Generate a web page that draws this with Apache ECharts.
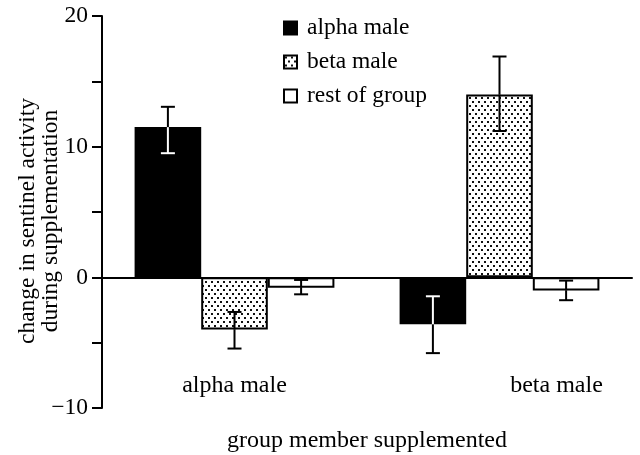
<!DOCTYPE html>
<html>
<head>
<meta charset="utf-8">
<script src="https://cdn.jsdelivr.net/npm/echarts@6/dist/echarts.min.js"></script>
<style>
  html, body { margin: 0; padding: 0; background: #fff; }
  #chart { width: 640px; height: 455px; }
</style>
</head>
<body>
<div id="chart"></div>
<script>
const categories = ['alpha male', 'beta male'];
const seriesNames = ['alpha male', 'beta male', 'rest of group'];

// mean change, with lower / upper end of the error bar
const alphaMale = [11.5, -3.6];
const alphaLow = [9.5, -5.8];
const alphaHigh = [13.05, -1.45];

const betaMale = [-4.0, 14.0];
const betaLow = [-5.45, 11.2];
const betaHigh = [-2.65, 16.9];

const restGroup = [-0.8, -1.0];
const restLow = [-1.3, -1.75];
const restHigh = [-0.2, -0.25];

const yTicks = [-10, 0, 10, 20];

const FONT = '"Liberation Serif", "Times New Roman", serif';
const CAT_GAP = 0.246;

// dotted fill for the beta male bars
const dots = document.createElement('canvas');
dots.width = 6;
dots.height = 8;
const dctx = dots.getContext('2d');
dctx.fillStyle = '#fff';
dctx.fillRect(0, 0, 6, 8);
dctx.fillStyle = '#111';
dctx.fillRect(1, 1, 2, 2);
dctx.fillRect(4, 5, 2, 2);

function errorSeries(k, means, lows, highs, innerColor) {
  const data = means.map(function (m, i) { return [i, m, lows[i], highs[i]]; });
  return {
    type: 'custom',
    silent: true,
    z: 5,
    data: data,
    encode: { x: 0, y: [1, 2, 3] },
    renderItem: function (params, api) {
      const cat = api.value(0);
      const mean = api.value(1);
      const lo = api.value(2);
      const hi = api.value(3);
      const band = api.size([1, 0])[0];
      const barW = band * (1 - CAT_GAP) / 3;
      const x = api.coord([cat, 0])[0] + (k - 1) * barW;
      const yMean = api.coord([cat, mean])[1];
      const inner = mean >= 0 ? lo : hi;
      const outer = mean >= 0 ? hi : lo;
      const yIn = api.coord([cat, inner])[1];
      const yOut = api.coord([cat, outer])[1];
      const half = 7;
      const seg = function (x1, y1, x2, y2, c) {
        return { type: 'line', shape: { x1: x1, y1: y1, x2: x2, y2: y2 }, style: { stroke: c, lineWidth: 2 } };
      };
      return {
        type: 'group',
        children: [
          seg(x, yMean, x, yIn, innerColor),
          seg(x - half, yIn, x + half, yIn, innerColor),
          seg(x, yMean, x, yOut, '#000'),
          seg(x - half, yOut, x + half, yOut, '#000')
        ]
      };
    }
  };
}

const chart = echarts.init(document.getElementById('chart'));

chart.setOption({
  backgroundColor: '#fff',
  animation: false,
  textStyle: { fontFamily: FONT, color: '#000' },
  grid: { left: 102, right: 8, top: 16, bottom: 47, containLabel: false, outerBoundsMode: 'none' },
  legend: {
    data: seriesNames,
    orient: 'vertical',
    left: 278,
    top: 11,
    itemWidth: 13,
    itemHeight: 13,
    itemGap: 10,
    icon: 'rect',
    textStyle: { fontFamily: FONT, fontSize: 23.5, lineHeight: 23, color: '#000', padding: [0, 0, 0, 5] }
  },
  xAxis: {
    type: 'category',
    data: categories,
    name: 'group member supplemented',
    nameLocation: 'middle',
    nameGap: 21,
    nameTextStyle: { fontFamily: FONT, fontSize: 24, color: '#000' },
    axisLine: { onZero: true, lineStyle: { color: '#000', width: 2 } },
    axisTick: { show: false },
    axisLabel: {
      margin: -34,
      fontFamily: FONT,
      fontSize: 24,
      color: '#000',
      formatter: function (v) {
        return v === 'beta male' ? '{b|' + v + '}' : v;
      },
      rich: {
        b: { fontFamily: FONT, fontSize: 24, color: '#000', padding: [0, 0, 0, 114] }
      }
    },
    splitLine: { show: false }
  },
  yAxis: {
    type: 'value',
    min: -10,
    max: 20,
    interval: 5,
    name: 'change in sentinel activity\nduring supplementation',
    nameLocation: 'middle',
    nameRotate: 90,
    nameGap: 40,
    nameMoveOverlap: false,
    nameTextStyle: { fontFamily: FONT, fontSize: 23.5, lineHeight: 23, color: '#000', padding: [0, 18, 0, 0] },
    axisLine: { show: true, lineStyle: { color: '#000', width: 2 } },
    axisTick: { show: true, length: 10, lineStyle: { color: '#000', width: 2 } },
    axisLabel: {
      margin: 14,
      fontFamily: FONT,
      fontSize: 23.5,
      color: '#000',
      formatter: function (v) {
        if (yTicks.indexOf(v) < 0) return '';
        return v < 0 ? '\u2212' + Math.abs(v) : String(v);
      }
    },
    splitLine: { show: false }
  },
  series: [
    {
      name: seriesNames[0],
      type: 'bar',
      data: alphaMale,
      barGap: '0%',
      barCategoryGap: (CAT_GAP * 100) + '%',
      itemStyle: { color: '#000', borderColor: '#000', borderWidth: 1.5 }
    },
    {
      name: seriesNames[1],
      type: 'bar',
      data: betaMale,
      barGap: '0%',
      barCategoryGap: (CAT_GAP * 100) + '%',
      itemStyle: { color: { image: dots, repeat: 'repeat' }, borderColor: '#000', borderWidth: 2 }
    },
    {
      name: seriesNames[2],
      type: 'bar',
      data: restGroup,
      barGap: '0%',
      barCategoryGap: (CAT_GAP * 100) + '%',
      itemStyle: { color: '#fff', borderColor: '#000', borderWidth: 2 }
    },
    errorSeries(0, alphaMale, alphaLow, alphaHigh, '#fff'),
    errorSeries(1, betaMale, betaLow, betaHigh, '#000'),
    errorSeries(2, restGroup, restLow, restHigh, '#000')
  ]
});
</script>
</body>
</html>
